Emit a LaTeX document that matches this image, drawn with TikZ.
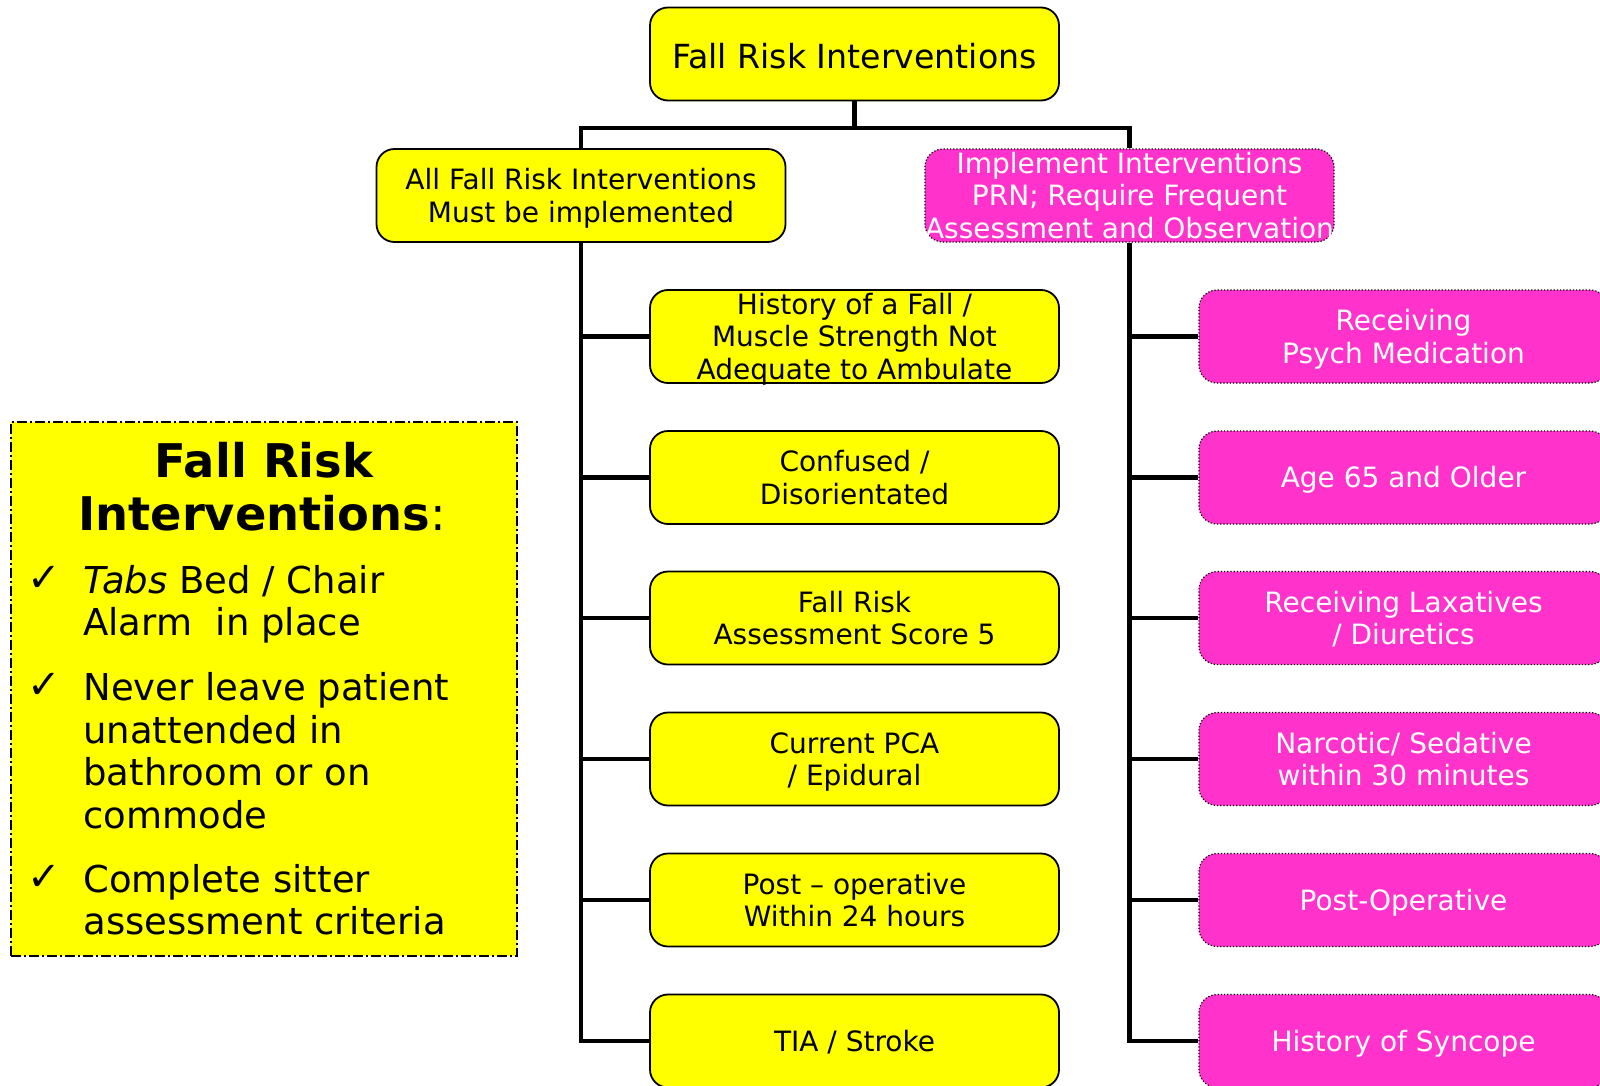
\documentclass[tikz,border=0pt]{standalone}
\usepackage{fontspec}
\setmainfont{DejaVu Sans}
\usetikzlibrary{backgrounds}
\definecolor{ybox}{HTML}{FFFF00}
\definecolor{mbox}{HTML}{FF33CC}
\newcommand{\boxtxt}[2][-0.4em]{\raisebox{#1}[0pt][0pt]{\begin{tabular}{@{}c@{}}#2\end{tabular}}}
\tikzset{
  ynode/.style={draw=black, line width=0.9pt, fill=ybox, rounded corners=9pt,
    minimum width=204.5pt, minimum height=46.5pt, inner sep=0pt,
    font=\fontsize{14}{16.1}\selectfont, text=black},
  mnode/.style={draw=black, densely dotted, line width=0.6pt, fill=mbox, rounded corners=9pt,
    minimum width=204.5pt, minimum height=46.5pt, inner sep=0pt,
    font=\fontsize{14}{16.1}\selectfont, text=white},
  conn/.style={draw=black, line width=2.2pt},
  legendbox/.style={draw=black, fill=ybox, line width=0.6pt,
    dash pattern=on 5pt off 1.5pt on 1pt off 1.5pt, inner sep=0pt},
  legtitle/.style={anchor=base, inner sep=0pt, font=\fontsize{23.2}{26}\selectfont\bfseries},
  legline/.style={anchor=base west, inner sep=0pt, font=\fontsize{18.5}{21.7}\selectfont},
  legcheck/.style={anchor=base, inner sep=0pt, font=\fontsize{20}{22}\selectfont}
}
\begin{document}
\begin{tikzpicture}[x=0.5pt,y=-0.5pt]
\useasboundingbox (0,0) rectangle (1600,1086);
\clip (0,0) rectangle (1600,1086);

% top
\node[ynode, font=\fontsize{16.6}{19}\selectfont] (top) at (854.5,54) {\boxtxt[-0.47em]{Fall Risk Interventions}};
\node[ynode] (lhead) at (581,195.5) {\boxtxt{All Fall Risk Interventions\\Must be implemented}};
\node[mnode] (rhead) at (1129.5,195.5) {\boxtxt{Implement Interventions\\PRN; Require Frequent\\Assessment and Observation}};

% yellow children
\node[ynode] (y1) at (854.5,336.5) {\boxtxt{History of a Fall /\\Muscle Strength Not\\Adequate to Ambulate}};
\node[ynode] (y2) at (854.5,477.5) {\boxtxt{Confused /\\Disorientated}};
\node[ynode] (y3) at (854.5,618) {\boxtxt{Fall Risk\\Assessment Score 5}};
\node[ynode] (y4) at (854.5,759) {\boxtxt{Current PCA\\/ Epidural}};
\node[ynode] (y5) at (854.5,900) {\boxtxt{Post -- operative\\Within 24 hours}};
\node[ynode] (y6) at (854.5,1041) {\boxtxt{TIA / Stroke}};

% magenta children
\node[mnode] (m1) at (1403.5,336.5) {\boxtxt{Receiving\\Psych Medication}};
\node[mnode] (m2) at (1403.5,477.5) {\boxtxt{Age 65 and Older}};
\node[mnode] (m3) at (1403.5,618) {\boxtxt{Receiving Laxatives\\/ Diuretics}};
\node[mnode] (m4) at (1403.5,759) {\boxtxt{Narcotic/ Sedative\\within 30 minutes}};
\node[mnode] (m5) at (1403.5,900) {\boxtxt{Post-Operative}};
\node[mnode] (m6) at (1403.5,1041) {\boxtxt{History of Syncope}};

\coordinate (bar) at (854.5,128);

\begin{scope}[on background layer]
  \draw[conn] (top.south) -- (bar);
  \draw[conn] (lhead.north) |- (rhead.north |- bar) -- (rhead.north);
  \draw[conn] (lhead.south) -- (lhead.south |- y6.west) -- (y6.west);
  \foreach \i in {1,...,5} {\draw[conn] (lhead.south |- y\i.west) -- (y\i.west);}
  \draw[conn] (rhead.south) -- (rhead.south |- m6.west) -- (m6.west);
  \foreach \i in {1,...,5} {\draw[conn] (rhead.south |- m\i.west) -- (m\i.west);}
\end{scope}

% legend
\node[legendbox, minimum width=253pt, minimum height=267pt] (legend) at (264,689) {};
\node[legtitle] (lt1) at (264,477) {Fall Risk};
\node[legtitle] (lt2) at (262,530) {Interventions\textmd{:}};
\node[legcheck] (c1) at (44,591) {✓};
\node[legline] (b1a) at (83,593) {\textit{Tabs} Bed / Chair};
\node[legline] (b1b) at (83,635) {Alarm\ \ in place};
\node[legcheck] (c2) at (44,698) {✓};
\node[legline] (b2a) at (83,700) {Never leave patient};
\node[legline] (b2b) at (83,743) {unattended in};
\node[legline] (b2c) at (83,785) {bathroom or on};
\node[legline] (b2d) at (83,828) {commode};
\node[legcheck] (c3) at (44,890) {✓};
\node[legline] (b3a) at (83,892) {Complete sitter};
\node[legline] (b3b) at (83,934) {assessment criteria};
\end{tikzpicture}
\end{document}
